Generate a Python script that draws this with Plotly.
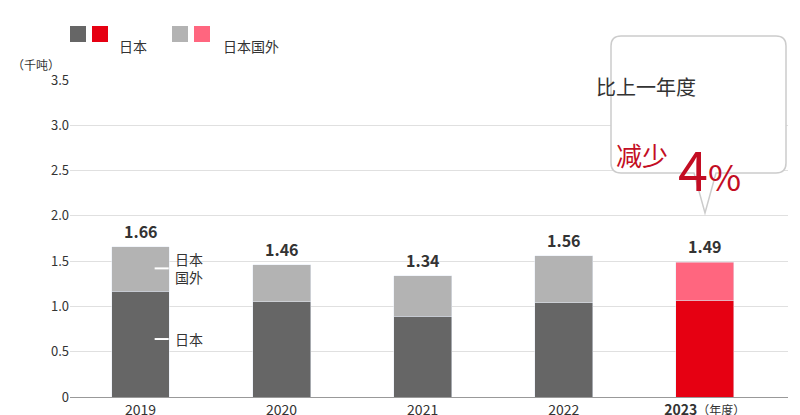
import plotly.graph_objects as go

years = ["2019", "2020", "2021", "2022", "2023"]
japan = [1.17, 1.05, 0.89, 1.04, 1.07]
totals = [1.66, 1.46, 1.34, 1.56, 1.49]
overseas = [round(t - j, 2) for t, j in zip(totals, japan)]
ticktext = ["2019", "2020", "2021", "2022", "<b>2023</b><span style='font-size:12px'>（年度）</span>"]
yticks = [0, 0.5, 1.0, 1.5, 2.0, 2.5, 3.0, 3.5]
yticklabels = ["0", "0.5", "1.0", "1.5", "2.0", "2.5", "3.0", "3.5"]

W, H = 800, 415
L, R, T, B = 62, 20, 72, 26
def px(x): return (x - L) / (W - L - R)
def py(y): return 1 - (y - T) / (H - T - B)

jc = ["#666666"] * 4 + ["#e60012"]
oc = ["#b3b3b3"] * 4 + ["#ff667f"]
font = "Noto Sans CJK SC, Roboto, sans-serif"

fig = go.Figure()
fig.add_bar(x=years, y=japan, marker_color=jc, width=0.41, hoverinfo="skip")
fig.add_bar(x=years, y=overseas, marker_color=oc, width=0.41, hoverinfo="skip")

for i, t in enumerate(totals):
    fig.add_annotation(x=i, y=t, xref="x", yref="y", text=f"<b>{t:.2f}</b>", showarrow=False,
                       yanchor="bottom", yshift=2, font=dict(size=16, color="#333"))

shapes = []
for yv in [1.42, 0.64]:
    shapes.append(dict(type="line", xref="x", yref="y", x0=0.1, x1=0.2, y0=yv, y1=yv,
                       line=dict(color="white", width=2)))
fig.add_annotation(x=0.23, y=1.42, xref="x", yref="y", text="日本<br>国外", showarrow=False, xanchor="left",
                   align="left", font=dict(size=14, color="#333"))
fig.add_annotation(x=0.23, y=0.64, xref="x", yref="y", text="日本", showarrow=False, xanchor="left",
                   font=dict(size=14, color="#333"))

# legend
for x0, c in [(62, "#666666"), (84, "#e60012"), (164, "#b3b3b3"), (186, "#ff667f")]:
    shapes.append(dict(type="rect", xref="paper", yref="paper", x0=px(x0), x1=px(x0 + 16),
                       y0=py(34), y1=py(18), fillcolor=c, line_width=0))
fig.add_annotation(xref="paper", yref="paper", x=px(109), y=py(26), text="日本", showarrow=False,
                   xanchor="left", font=dict(size=14, color="#333"))
fig.add_annotation(xref="paper", yref="paper", x=px(213), y=py(26), text="日本国外", showarrow=False,
                   xanchor="left", font=dict(size=14, color="#333"))
fig.add_annotation(xref="paper", yref="paper", x=px(2), y=py(46), text="（千吨）", showarrow=False,
                   xanchor="left", font=dict(size=12, color="#333"))

# callout
x0, x1, y0, y1, r = 603, 778, 28, 165, 10
def P(x, y): return f"{px(x)},{py(y)}"
path = (f"M {P(x0+r,y0)} L {P(x1-r,y0)} Q {P(x1,y0)} {P(x1,y0+r)} L {P(x1,y1-r)} Q {P(x1,y1)} {P(x1-r,y1)} "
        f"L {P(708,y1)} L {P(697,205)} L {P(686,y1)} L {P(x0+r,y1)} Q {P(x0,y1)} {P(x0,y1-r)} "
        f"L {P(x0,y0+r)} Q {P(x0,y0)} {P(x0+r,y0)} Z")
shapes.append(dict(type="path", xref="paper", yref="paper", path=path, fillcolor="white",
                   line=dict(color="#cccccc", width=1.5)))
fig.add_annotation(xref="paper", yref="paper", x=px(690), y=py(62), text="比上一年度", showarrow=False,
                   font=dict(size=20, color="#333"))
fig.add_annotation(xref="paper", yref="paper", x=px(662), y=py(126), text="减少", showarrow=False,
                   font=dict(size=26, color="#c30d23"))
fig.add_annotation(xref="paper", yref="paper", x=px(735), y=py(118), text="4<span style='font-size:36px'>%</span>",
                   showarrow=False, font=dict(size=54, color="#c30d23"))

fig.update_layout(
    width=W, height=H, margin=dict(l=L, r=R, t=T, b=B, autoexpand=False), barmode="stack", showlegend=False,
    plot_bgcolor="white", paper_bgcolor="white", font=dict(family=font, color="#333"), shapes=shapes,
    xaxis=dict(type="category", range=[-0.5, 4.59], tickvals=years, ticktext=ticktext, tickfont=dict(size=14),
               showgrid=False, showline=True, linecolor="#999", ticks="", automargin=False),
    yaxis=dict(range=[0, 3.5], tickvals=yticks, ticktext=yticklabels, tickfont=dict(size=13),
               gridcolor="#e0e0e0", zeroline=False, showline=False, ticks="", automargin=False),
)
fig.write_html("out.html")
